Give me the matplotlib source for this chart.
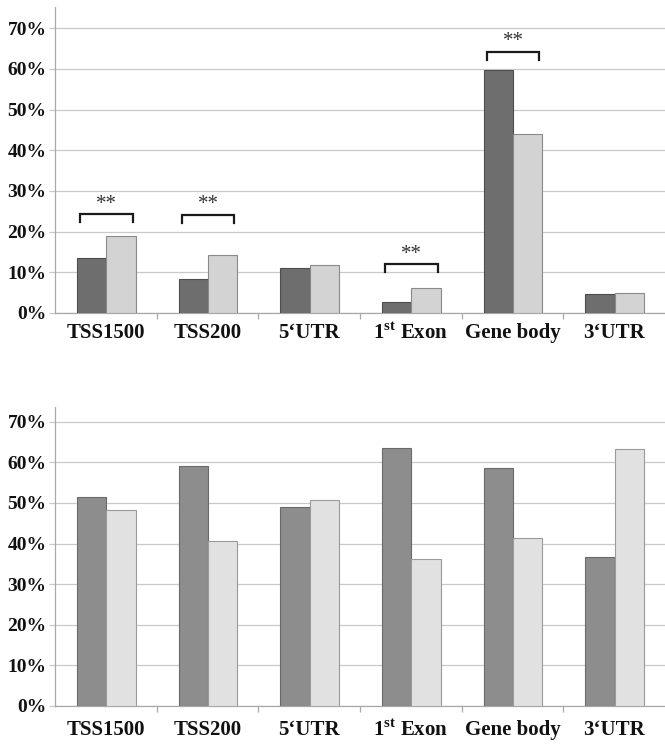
import numpy as np
import matplotlib
matplotlib.use("Agg")
import matplotlib.pyplot as plt
from matplotlib.ticker import PercentFormatter

plt.rcParams["font.family"] = ["Liberation Serif", "DejaVu Serif"]
plt.rcParams["mathtext.fontset"] = "custom"
plt.rcParams["mathtext.rm"] = "Liberation Serif:bold"
plt.rcParams["mathtext.bf"] = "Liberation Serif:bold"

categories = ["TSS1500", "TSS200", "5\u2018UTR", r"1$^{\mathrm{st}}$ Exon", "Gene body", "3\u2018UTR"]

# upper panel (%)
top_dark = [13.5, 8.4, 11.0, 2.8, 59.6, 4.6]
top_light = [18.9, 14.3, 11.7, 6.1, 43.9, 4.8]

# lower panel (%)
bottom_dark = [51.5, 59.2, 49.1, 63.6, 58.7, 36.6]
bottom_light = [48.2, 40.7, 50.6, 36.3, 41.4, 63.3]

# significance brackets on the upper panel: category index, bracket height (%)
sig_idx = [0, 1, 3, 4]
sig_height = [24.3, 24.2, 12.0, 64.2]

W, H = 665, 744
DPI = 100


def style_axes(ax, ymax):
    x = np.arange(len(categories))
    ax.set_xlim(-0.5, len(categories) - 0.5)
    ax.set_ylim(0, ymax)
    ax.set_yticks(np.arange(0, 71, 10))
    ax.yaxis.set_major_formatter(PercentFormatter(decimals=0))
    ax.grid(axis="y", color="#c9c9c9", linewidth=0.9, zorder=0)
    ax.set_axisbelow(True)
    for side in ("top", "right"):
        ax.spines[side].set_visible(False)
    for side in ("left", "bottom"):
        ax.spines[side].set_color("#a8a8a8")
        ax.spines[side].set_linewidth(0.9)
    # ticks sit between the categories, labels at the centres
    ax.set_xticks(x)
    ax.set_xticks(x[:-1] + 0.5, minor=True)
    ax.tick_params(axis="x", which="major", length=0)
    ax.tick_params(axis="x", which="minor", length=4, color="#a8a8a8", width=0.9)
    ax.tick_params(axis="y", length=4, color="#c9c9c9", width=0.9, pad=2,
                   labelsize=14)
    for t in ax.get_yticklabels():
        t.set_fontweight("bold")
        t.set_color("#111111")


def draw_bars(ax, dark, light, c_dark, c_light, e_dark, e_light):
    x = np.arange(len(categories))
    w = 0.289
    ax.bar(x - w / 2 + 0.005, dark, width=w, color=c_dark, edgecolor=e_dark,
           linewidth=0.8, zorder=3)
    ax.bar(x + w / 2 + 0.005, light, width=w, color=c_light, edgecolor=e_light,
           linewidth=0.8, zorder=3)


fig = plt.figure(figsize=(W / DPI, H / DPI), dpi=DPI)
ax1 = fig.add_axes([55 / W, 1 - 313 / H, 1 - 55 / W, (313 - 7) / H])
ax2 = fig.add_axes([55 / W, 1 - 706 / H, 1 - 55 / W, (706 - 407) / H])

style_axes(ax1, 75.2)
style_axes(ax2, 73.6)

draw_bars(ax1, top_dark, top_light, "#6e6e6e", "#d3d3d3", "#4d4d4d", "#8a8a8a")
draw_bars(ax2, bottom_dark, bottom_light, "#8d8d8d", "#e1e1e1", "#6a6a6a", "#9a9a9a")

ax1.set_xticklabels(categories, fontsize=15, fontweight="bold")
ax1.tick_params(axis="x", which="major", pad=7)
ax2.set_xticklabels(categories, fontsize=15, fontweight="bold")
ax2.tick_params(axis="x", which="major", pad=10)
for ax in (ax1, ax2):
    for t in ax.get_xticklabels():
        t.set_color("#111111")

# brackets with the ** marks
for i, yb in zip(sig_idx, sig_height):
    x0, x1 = i - 0.25, i + 0.265
    ax1.plot([x0, x0, x1, x1], [yb - 2.0, yb, yb, yb - 2.0], color="#1a1a1a",
             linewidth=1.6, solid_joinstyle="miter", zorder=4)
    ax1.text((x0 + x1) / 2, yb + 0.1, "**", ha="center", va="bottom",
             fontsize=15, color="#333333", zorder=4)

fig.savefig("out.png", dpi=DPI)
